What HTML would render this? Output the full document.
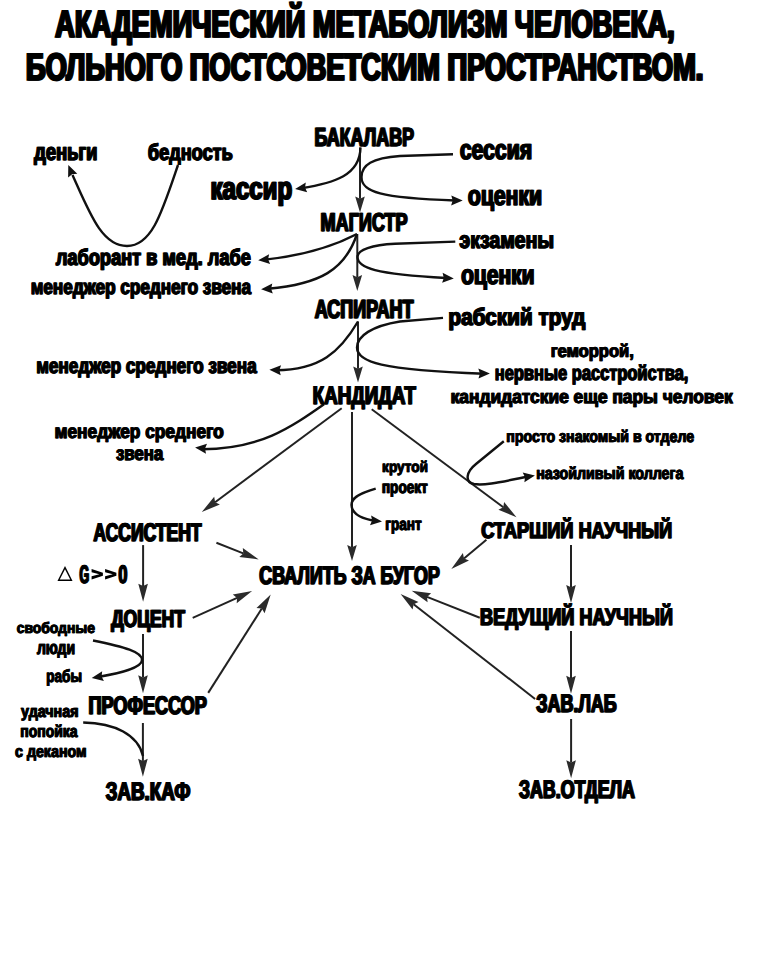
<!DOCTYPE html>
<html><head><meta charset="utf-8"><style>
html,body{margin:0;padding:0;background:#fff;width:757px;height:960px;overflow:hidden}
svg{display:block}
text{font-family:"Liberation Sans",sans-serif;font-weight:bold;fill:#000;stroke:#000;stroke-linejoin:miter;stroke-miterlimit:2;text-rendering:geometricPrecision}
</style></head><body>
<svg width="757" height="960" viewBox="0 0 757 960">
<rect width="757" height="960" fill="#fff"/>
<path d="M360.0,212.5 L355.2,196.5 L360.0,198.7 L364.8,196.5Z" fill="#2b2b2b"/>
<path d="M360.0,147.4 L360.0,198.7" stroke="#222" stroke-width="2" fill="none"/>
<path d="M357.3,291.0 L352.5,275.0 L357.3,277.2 L362.1,275.0Z" fill="#2b2b2b"/>
<path d="M357.3,234.0 L357.3,277.2" stroke="#222" stroke-width="2" fill="none"/>
<path d="M358.0,382.5 L353.2,366.5 L358.0,368.7 L362.8,366.5Z" fill="#2b2b2b"/>
<path d="M358.0,321.4 L358.0,368.7" stroke="#222" stroke-width="2" fill="none"/>
<path d="M352.0,561.0 L347.2,545.0 L352.0,547.2 L356.8,545.0Z" fill="#2b2b2b"/>
<path d="M352.0,412.0 L352.0,547.2" stroke="#222" stroke-width="2" fill="none"/>
<path d="M143.1,601.8 L138.3,583.8 L143.1,586.0 L147.9,583.8Z" fill="#2b2b2b"/>
<path d="M143.1,545.1 L143.1,586.0" stroke="#222" stroke-width="2" fill="none"/>
<path d="M143.0,693.3 L138.2,675.3 L143.0,677.5 L147.8,675.3Z" fill="#2b2b2b"/>
<path d="M143.0,634.0 L143.0,677.5" stroke="#222" stroke-width="2" fill="none"/>
<path d="M142.9,776.7 L138.1,758.7 L142.9,760.9 L147.7,758.7Z" fill="#2b2b2b"/>
<path d="M142.9,723.0 L142.9,760.9" stroke="#222" stroke-width="2" fill="none"/>
<path d="M571.0,603.0 L566.2,585.0 L571.0,587.2 L575.8,585.0Z" fill="#2b2b2b"/>
<path d="M571.0,545.1 L571.0,587.2" stroke="#222" stroke-width="2" fill="none"/>
<path d="M571.0,693.7 L566.2,675.7 L571.0,677.9 L575.8,675.7Z" fill="#2b2b2b"/>
<path d="M571.0,631.0 L571.0,677.9" stroke="#222" stroke-width="2" fill="none"/>
<path d="M571.1,778.3 L566.3,760.3 L571.1,762.5 L575.9,760.3Z" fill="#2b2b2b"/>
<path d="M571.1,719.0 L571.1,762.5" stroke="#222" stroke-width="2" fill="none"/>
<path d="M201.8,512.0 L214.2,496.8 L215.1,502.2 L219.9,504.5Z" fill="#2b2b2b"/>
<path d="M341.7,408.2 L215.1,502.2" stroke="#222" stroke-width="2" fill="none"/>
<path d="M516.5,517.2 L498.4,509.7 L503.3,507.3 L504.1,502.0Z" fill="#2b2b2b"/>
<path d="M371.7,409.2 L503.3,507.3" stroke="#222" stroke-width="2" fill="none"/>
<path d="M258.7,559.4 L239.3,556.9 L243.3,553.4 L242.8,548.0Z" fill="#2b2b2b"/>
<path d="M216.4,542.8 L243.3,553.4" stroke="#222" stroke-width="2" fill="none"/>
<path d="M252.1,591.1 L236.7,603.3 L237.1,597.9 L232.8,594.5Z" fill="#2b2b2b"/>
<path d="M192.7,617.8 L237.1,597.9" stroke="#222" stroke-width="2" fill="none"/>
<path d="M270.7,594.6 L264.6,613.2 L261.8,608.5 L256.5,608.1Z" fill="#2b2b2b"/>
<path d="M208.2,692.9 L261.8,608.5" stroke="#222" stroke-width="2" fill="none"/>
<path d="M451.3,568.9 L462.9,553.1 L464.0,558.4 L469.0,560.5Z" fill="#2b2b2b"/>
<path d="M486.4,539.8 L464.0,558.4" stroke="#222" stroke-width="2" fill="none"/>
<path d="M411.7,590.8 L431.1,593.3 L427.0,596.9 L427.6,602.3Z" fill="#2b2b2b"/>
<path d="M479.8,617.8 L427.0,596.9" stroke="#222" stroke-width="2" fill="none"/>
<path d="M400.6,594.0 L418.5,601.9 L413.6,604.2 L412.6,609.5Z" fill="#2b2b2b"/>
<path d="M535.1,699.0 L413.6,604.2" stroke="#222" stroke-width="2" fill="none"/>
<path d="M178,165 C 162,212 152,246 127,246 C 102,246 90,214 72.5,175" stroke="#111" stroke-width="2.4" fill="none"/>
<path d="M68.3,165.0 L77.3,173.7 L72.1,174.2 L68.1,177.5Z" fill="#111"/>
<path d="M360.5,147.5 C 360,175 335,183 301,188.2" stroke="#111" stroke-width="2.4" fill="none"/>
<path d="M295.1,189.0 L305.8,182.4 L305.0,187.6 L307.2,192.3Z" fill="#111"/>
<path d="M453,154.3 L 400,156 C 372,158 361.5,165 361.5,177 C 361.5,192 380,198 455,200.5" stroke="#111" stroke-width="2.4" fill="none"/>
<path d="M462.7,200.6 L451.1,205.4 L452.7,200.4 L451.3,195.4Z" fill="#111"/>
<path d="M357,234 C 330,248 300,256 265,259.6" stroke="#111" stroke-width="2.4" fill="none"/>
<path d="M258.2,260.3 L269.1,254.2 L268.1,259.3 L270.1,264.1Z" fill="#111"/>
<path d="M357,234 C 345,270 320,284 268,288.8" stroke="#111" stroke-width="2.4" fill="none"/>
<path d="M261.1,289.2 L272.3,283.6 L271.1,288.7 L272.8,293.6Z" fill="#111"/>
<path d="M455.3,241.6 L 395,243.8 C 372,245 357.5,250 357.5,257 C 357.5,268 375,274 446,278" stroke="#111" stroke-width="2.4" fill="none"/>
<path d="M453.8,278.4 L442.1,282.8 L443.8,277.9 L442.6,272.8Z" fill="#111"/>
<path d="M358,321.5 C 340,352 320,370 276,370.2" stroke="#111" stroke-width="2.4" fill="none"/>
<path d="M269.4,369.8 L281.1,365.2 L279.4,370.1 L280.7,375.2Z" fill="#111"/>
<path d="M443,317.9 L 400,321.5 C 372,326 357,336 357,347.6 C 357,362 380,370 484,373.8" stroke="#111" stroke-width="2.4" fill="none"/>
<path d="M489.9,373.5 L478.5,378.6 L479.9,373.6 L478.3,368.6Z" fill="#111"/>
<path d="M324,404.2 C 290,428 260,449 202,449.2" stroke="#111" stroke-width="2.4" fill="none"/>
<path d="M195.1,447.6 L207.0,443.8 L205.0,448.6 L206.0,453.7Z" fill="#111"/>
<path d="M503.8,441.3 L476,464 C 466,472 464.5,482 474,484 C 485,486 505,481 528.5,476.5" stroke="#111" stroke-width="2.4" fill="none"/>
<path d="M534.9,475.5 L524.4,482.3 L525.0,477.2 L522.7,472.5Z" fill="#111"/>
<path d="M375.7,488.6 C 357,494 351.3,499 351.5,505 C 352,514 362,519 376,521" stroke="#111" stroke-width="2.4" fill="none"/>
<path d="M382.0,521.6 L370.0,525.3 L372.1,520.5 L371.1,515.4Z" fill="#111"/>
<path d="M93,640.5 C 125,647 142,652 142,660 C 142,668 120,673 98,677" stroke="#111" stroke-width="2.4" fill="none"/>
<path d="M91.7,678.1 L102.2,671.2 L101.6,676.4 L103.9,681.1Z" fill="#111"/>
<path d="M83.2,722.5 C 115,723 138,735 143,756" stroke="#111" stroke-width="2.4" fill="none"/>
<path d="M58.6,580.3 L65,567.6 L71.4,580.3 Z" fill="none" stroke="#000" stroke-width="1.4"/>
<path d="M91.6,569.1 L102.9,572.8 L102.9,575.7 L91.6,579.4 L91.6,576.3 L99.3,574.25 L91.6,572.2 Z" fill="#000"/>
<path d="M105.1,569.1 L116.4,572.8 L116.4,575.7 L105.1,579.4 L105.1,576.3 L112.8,574.25 L105.1,572.2 Z" fill="#000"/>
<g id="t0"><text x="54.46" y="36.93" font-size="38.32" textLength="619.47" lengthAdjust="spacingAndGlyphs" stroke-width="1.53">АКАДЕМИЧЕСКИЙ МЕТАБОЛИЗМ ЧЕЛОВЕКА,</text><text x="55.80" y="36.93" font-size="38.32" textLength="619.47" lengthAdjust="spacingAndGlyphs" stroke-width="1.53">АКАДЕМИЧЕСКИЙ МЕТАБОЛИЗМ ЧЕЛОВЕКА,</text></g>
<g id="t1"><text x="25.34" y="80.14" font-size="38.19" textLength="677.37" lengthAdjust="spacingAndGlyphs" stroke-width="1.53">БОЛЬНОГО ПОСТСОВЕТСКИМ ПРОСТРАНСТВОМ.</text><text x="26.67" y="80.14" font-size="38.19" textLength="677.37" lengthAdjust="spacingAndGlyphs" stroke-width="1.53">БОЛЬНОГО ПОСТСОВЕТСКИМ ПРОСТРАНСТВОМ.</text></g>
<g id="t2"><text x="33.87" y="160.21" font-size="24.30" textLength="63.17" lengthAdjust="spacingAndGlyphs" stroke-width="0.97">деньги</text><text x="34.60" y="160.21" font-size="24.30" textLength="63.17" lengthAdjust="spacingAndGlyphs" stroke-width="0.97">деньги</text></g>
<g id="t3"><text x="147.58" y="159.94" font-size="22.89" textLength="84.78" lengthAdjust="spacingAndGlyphs" stroke-width="0.92">бедность</text><text x="148.27" y="159.94" font-size="22.89" textLength="84.78" lengthAdjust="spacingAndGlyphs" stroke-width="0.92">бедность</text></g>
<g id="t4"><text x="314.08" y="145.58" font-size="26.10" textLength="99.49" lengthAdjust="spacingAndGlyphs" stroke-width="1.04">БАКАЛАВР</text><text x="315.00" y="145.58" font-size="26.10" textLength="99.49" lengthAdjust="spacingAndGlyphs" stroke-width="1.04">БАКАЛАВР</text></g>
<g id="t5"><text x="459.49" y="159.44" font-size="27.82" textLength="72.21" lengthAdjust="spacingAndGlyphs" stroke-width="1.11">сессия</text><text x="460.32" y="159.44" font-size="27.82" textLength="72.21" lengthAdjust="spacingAndGlyphs" stroke-width="1.11">сессия</text></g>
<g id="t6"><text x="210.05" y="198.67" font-size="31.51" textLength="81.58" lengthAdjust="spacingAndGlyphs" stroke-width="1.26">кассир</text><text x="211.00" y="198.67" font-size="31.51" textLength="81.58" lengthAdjust="spacingAndGlyphs" stroke-width="1.26">кассир</text></g>
<g id="t7"><text x="467.49" y="205.14" font-size="27.99" textLength="74.17" lengthAdjust="spacingAndGlyphs" stroke-width="1.12">оценки</text><text x="468.33" y="205.14" font-size="27.99" textLength="74.17" lengthAdjust="spacingAndGlyphs" stroke-width="1.12">оценки</text></g>
<g id="t8"><text x="320.11" y="231.09" font-size="25.69" textLength="86.93" lengthAdjust="spacingAndGlyphs" stroke-width="1.03">МАГИСТР</text><text x="321.01" y="231.09" font-size="25.69" textLength="86.93" lengthAdjust="spacingAndGlyphs" stroke-width="1.03">МАГИСТР</text></g>
<g id="t9"><text x="459.12" y="248.32" font-size="23.77" textLength="94.52" lengthAdjust="spacingAndGlyphs" stroke-width="0.95">экзамены</text><text x="459.83" y="248.32" font-size="23.77" textLength="94.52" lengthAdjust="spacingAndGlyphs" stroke-width="0.95">экзамены</text></g>
<g id="t10"><text x="55.47" y="265.15" font-size="22.71" textLength="195.08" lengthAdjust="spacingAndGlyphs" stroke-width="0.91">лаборант в мед. лабе</text><text x="56.16" y="265.15" font-size="22.71" textLength="195.08" lengthAdjust="spacingAndGlyphs" stroke-width="0.91">лаборант в мед. лабе</text></g>
<g id="t11"><text x="460.65" y="284.45" font-size="27.29" textLength="73.53" lengthAdjust="spacingAndGlyphs" stroke-width="1.09">оценки</text><text x="461.47" y="284.45" font-size="27.29" textLength="73.53" lengthAdjust="spacingAndGlyphs" stroke-width="1.09">оценки</text></g>
<g id="t12"><text x="30.41" y="294.28" font-size="21.13" textLength="220.31" lengthAdjust="spacingAndGlyphs" stroke-width="0.85">менеджер среднего звена</text><text x="31.05" y="294.28" font-size="21.13" textLength="220.31" lengthAdjust="spacingAndGlyphs" stroke-width="0.85">менеджер среднего звена</text></g>
<g id="t13"><text x="314.30" y="317.68" font-size="26.24" textLength="98.75" lengthAdjust="spacingAndGlyphs" stroke-width="1.05">АСПИРАНТ</text><text x="315.22" y="317.68" font-size="26.24" textLength="98.75" lengthAdjust="spacingAndGlyphs" stroke-width="1.05">АСПИРАНТ</text></g>
<g id="t14"><text x="448.05" y="325.32" font-size="23.77" textLength="136.93" lengthAdjust="spacingAndGlyphs" stroke-width="0.95">рабский труд</text><text x="448.76" y="325.32" font-size="23.77" textLength="136.93" lengthAdjust="spacingAndGlyphs" stroke-width="0.95">рабский труд</text></g>
<g id="t15"><text x="35.90" y="373.37" font-size="21.48" textLength="220.39" lengthAdjust="spacingAndGlyphs" stroke-width="0.86">менеджер среднего звена</text><text x="36.55" y="373.37" font-size="21.48" textLength="220.39" lengthAdjust="spacingAndGlyphs" stroke-width="0.86">менеджер среднего звена</text></g>
<g id="t16"><text x="550.47" y="356.84" font-size="18.13" textLength="83.08" lengthAdjust="spacingAndGlyphs" stroke-width="0.73">геморрой,</text><text x="551.02" y="356.84" font-size="18.13" textLength="83.08" lengthAdjust="spacingAndGlyphs" stroke-width="0.73">геморрой,</text></g>
<g id="t17"><text x="494.48" y="380.18" font-size="20.95" textLength="193.59" lengthAdjust="spacingAndGlyphs" stroke-width="0.84">нервные расстройства,</text><text x="495.11" y="380.18" font-size="20.95" textLength="193.59" lengthAdjust="spacingAndGlyphs" stroke-width="0.84">нервные расстройства,</text></g>
<g id="t18"><text x="312.19" y="403.69" font-size="25.55" textLength="103.29" lengthAdjust="spacingAndGlyphs" stroke-width="1.02">КАНДИДАТ</text><text x="313.09" y="403.69" font-size="25.55" textLength="103.29" lengthAdjust="spacingAndGlyphs" stroke-width="1.02">КАНДИДАТ</text></g>
<g id="t19"><text x="450.35" y="402.62" font-size="18.84" textLength="282.03" lengthAdjust="spacingAndGlyphs" stroke-width="0.75">кандидатские еще пары человек</text><text x="450.92" y="402.62" font-size="18.84" textLength="282.03" lengthAdjust="spacingAndGlyphs" stroke-width="0.75">кандидатские еще пары человек</text></g>
<g id="t20"><text x="54.36" y="437.71" font-size="19.54" textLength="169.02" lengthAdjust="spacingAndGlyphs" stroke-width="0.78">менеджер среднего</text><text x="54.94" y="437.71" font-size="19.54" textLength="169.02" lengthAdjust="spacingAndGlyphs" stroke-width="0.78">менеджер среднего</text></g>
<g id="t21"><text x="115.67" y="459.80" font-size="19.89" textLength="47.29" lengthAdjust="spacingAndGlyphs" stroke-width="0.80">звена</text><text x="116.26" y="459.80" font-size="19.89" textLength="47.29" lengthAdjust="spacingAndGlyphs" stroke-width="0.80">звена</text></g>
<g id="t22"><text x="506.10" y="442.37" font-size="16.55" textLength="187.70" lengthAdjust="spacingAndGlyphs" stroke-width="0.66">просто знакомый в отделе</text><text x="506.59" y="442.37" font-size="16.55" textLength="187.70" lengthAdjust="spacingAndGlyphs" stroke-width="0.66">просто знакомый в отделе</text></g>
<g id="t23"><text x="381.86" y="472.39" font-size="15.49" textLength="45.93" lengthAdjust="spacingAndGlyphs" stroke-width="0.62">крутой</text><text x="382.33" y="472.39" font-size="15.49" textLength="45.93" lengthAdjust="spacingAndGlyphs" stroke-width="0.62">крутой</text></g>
<g id="t24"><text x="381.61" y="492.55" font-size="17.43" textLength="45.89" lengthAdjust="spacingAndGlyphs" stroke-width="0.70">проект</text><text x="382.13" y="492.55" font-size="17.43" textLength="45.89" lengthAdjust="spacingAndGlyphs" stroke-width="0.70">проект</text></g>
<g id="t25"><text x="535.94" y="479.26" font-size="17.08" textLength="147.12" lengthAdjust="spacingAndGlyphs" stroke-width="0.68">назойливый коллега</text><text x="536.45" y="479.26" font-size="17.08" textLength="147.12" lengthAdjust="spacingAndGlyphs" stroke-width="0.68">назойливый коллега</text></g>
<g id="t26"><text x="385.04" y="529.55" font-size="17.43" textLength="36.36" lengthAdjust="spacingAndGlyphs" stroke-width="0.70">грант</text><text x="385.56" y="529.55" font-size="17.43" textLength="36.36" lengthAdjust="spacingAndGlyphs" stroke-width="0.70">грант</text></g>
<g id="t27"><text x="92.91" y="540.89" font-size="25.41" textLength="108.26" lengthAdjust="spacingAndGlyphs" stroke-width="1.02">АССИСТЕНТ</text><text x="93.80" y="540.89" font-size="25.41" textLength="108.26" lengthAdjust="spacingAndGlyphs" stroke-width="1.02">АССИСТЕНТ</text></g>
<g id="t28"><text x="480.87" y="537.95" font-size="22.66" textLength="190.84" lengthAdjust="spacingAndGlyphs" stroke-width="0.91">СТАРШИЙ НАУЧНЫЙ</text><text x="481.67" y="537.95" font-size="22.66" textLength="190.84" lengthAdjust="spacingAndGlyphs" stroke-width="0.91">СТАРШИЙ НАУЧНЫЙ</text></g>
<g id="t29"><text x="79.11" y="583.09" font-size="25.27" textLength="9.58" lengthAdjust="spacingAndGlyphs" stroke-width="1.01">G</text><text x="79.99" y="583.09" font-size="25.27" textLength="9.58" lengthAdjust="spacingAndGlyphs" stroke-width="1.01">G</text></g>
<g id="t30"><text x="117.95" y="583.09" font-size="25.27" textLength="9.04" lengthAdjust="spacingAndGlyphs" stroke-width="1.01">0</text><text x="118.84" y="583.09" font-size="25.27" textLength="9.04" lengthAdjust="spacingAndGlyphs" stroke-width="1.01">0</text></g>
<g id="t31"><text x="258.83" y="583.59" font-size="25.41" textLength="180.51" lengthAdjust="spacingAndGlyphs" stroke-width="1.02">СВАЛИТЬ ЗА БУГОР</text><text x="259.72" y="583.59" font-size="25.41" textLength="180.51" lengthAdjust="spacingAndGlyphs" stroke-width="1.02">СВАЛИТЬ ЗА БУГОР</text></g>
<g id="t32"><text x="110.82" y="626.51" font-size="24.45" textLength="73.66" lengthAdjust="spacingAndGlyphs" stroke-width="0.98">ДОЦЕНТ</text><text x="111.67" y="626.51" font-size="24.45" textLength="73.66" lengthAdjust="spacingAndGlyphs" stroke-width="0.98">ДОЦЕНТ</text></g>
<g id="t33"><text x="479.62" y="625.02" font-size="23.90" textLength="192.85" lengthAdjust="spacingAndGlyphs" stroke-width="0.96">ВЕДУЩИЙ НАУЧНЫЙ</text><text x="480.46" y="625.02" font-size="23.90" textLength="192.85" lengthAdjust="spacingAndGlyphs" stroke-width="0.96">ВЕДУЩИЙ НАУЧНЫЙ</text></g>
<g id="t34"><text x="16.47" y="633.20" font-size="15.14" textLength="78.26" lengthAdjust="spacingAndGlyphs" stroke-width="0.61">свободные</text><text x="16.92" y="633.20" font-size="15.14" textLength="78.26" lengthAdjust="spacingAndGlyphs" stroke-width="0.61">свободные</text></g>
<g id="t35"><text x="36.64" y="653.63" font-size="18.66" textLength="38.16" lengthAdjust="spacingAndGlyphs" stroke-width="0.75">люди</text><text x="37.20" y="653.63" font-size="18.66" textLength="38.16" lengthAdjust="spacingAndGlyphs" stroke-width="0.75">люди</text></g>
<g id="t36"><text x="46.07" y="682.25" font-size="17.43" textLength="35.61" lengthAdjust="spacingAndGlyphs" stroke-width="0.70">рабы</text><text x="46.60" y="682.25" font-size="17.43" textLength="35.61" lengthAdjust="spacingAndGlyphs" stroke-width="0.70">рабы</text></g>
<g id="t37"><text x="88.11" y="714.49" font-size="25.41" textLength="118.31" lengthAdjust="spacingAndGlyphs" stroke-width="1.02">ПРОФЕССОР</text><text x="89.00" y="714.49" font-size="25.41" textLength="118.31" lengthAdjust="spacingAndGlyphs" stroke-width="1.02">ПРОФЕССОР</text></g>
<g id="t38"><text x="535.87" y="711.79" font-size="25.55" textLength="80.36" lengthAdjust="spacingAndGlyphs" stroke-width="1.02">ЗАВ.ЛАБ</text><text x="536.76" y="711.79" font-size="25.55" textLength="80.36" lengthAdjust="spacingAndGlyphs" stroke-width="1.02">ЗАВ.ЛАБ</text></g>
<g id="t39"><text x="20.82" y="717.46" font-size="16.90" textLength="57.39" lengthAdjust="spacingAndGlyphs" stroke-width="0.68">удачная</text><text x="21.33" y="717.46" font-size="16.90" textLength="57.39" lengthAdjust="spacingAndGlyphs" stroke-width="0.68">удачная</text></g>
<g id="t40"><text x="20.00" y="736.96" font-size="16.90" textLength="57.23" lengthAdjust="spacingAndGlyphs" stroke-width="0.68">попойка</text><text x="20.51" y="736.96" font-size="16.90" textLength="57.23" lengthAdjust="spacingAndGlyphs" stroke-width="0.68">попойка</text></g>
<g id="t41"><text x="14.83" y="756.77" font-size="16.73" textLength="71.41" lengthAdjust="spacingAndGlyphs" stroke-width="0.67">с деканом</text><text x="15.33" y="756.77" font-size="16.73" textLength="71.41" lengthAdjust="spacingAndGlyphs" stroke-width="0.67">с деканом</text></g>
<g id="t42"><text x="105.13" y="799.89" font-size="25.41" textLength="84.90" lengthAdjust="spacingAndGlyphs" stroke-width="1.02">ЗАВ.КАФ</text><text x="106.02" y="799.89" font-size="25.41" textLength="84.90" lengthAdjust="spacingAndGlyphs" stroke-width="1.02">ЗАВ.КАФ</text></g>
<g id="t43"><text x="518.48" y="798.19" font-size="25.41" textLength="116.00" lengthAdjust="spacingAndGlyphs" stroke-width="1.02">ЗАВ.ОТДЕЛА</text><text x="519.37" y="798.19" font-size="25.41" textLength="116.00" lengthAdjust="spacingAndGlyphs" stroke-width="1.02">ЗАВ.ОТДЕЛА</text></g>
</svg>
</body></html>
